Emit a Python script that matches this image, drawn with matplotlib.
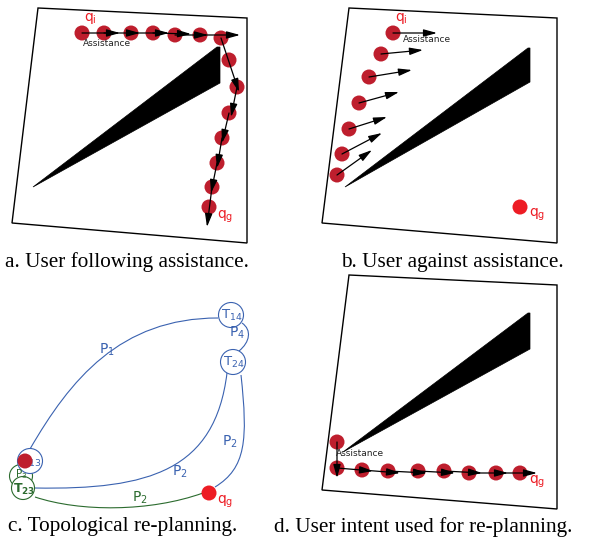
import numpy as np
import matplotlib.pyplot as plt
from matplotlib.patches import Polygon, Circle, FancyArrowPatch
from matplotlib.path import Path
from matplotlib.patches import PathPatch

# pixel coordinates of the sketch (y goes down)
frame_a = [(38, 8), (247, 18), (247, 243), (12, 223)]
frame_b = [(349, 8), (557, 18), (557, 243), (322, 223)]
frame_d = [(349, 275), (557, 285), (557, 509), (322, 490)]

obst_a = [(33, 187), (217, 47), (220, 47), (220, 83)]
obst_b = [(345, 187), (528, 48), (530, 48), (530, 82)]
obst_d = [(343, 452), (528, 313), (530, 313), (530, 349)]

dots_a = [(82, 33), (104, 33), (131, 33), (153, 33), (175, 35), (200, 35), (221, 38),
          (229, 60), (237, 87), (229, 113), (222, 138), (217, 163), (212, 187), (209, 207)]
arrows_a = [((82, 33), (120, 33)), ((104, 33), (140, 33)), ((131, 33), (169, 33)),
            ((153, 33), (191, 34)), ((175, 35), (208, 35)), ((200, 35), (240, 35)),
            ((221, 38), (239, 92)), ((237, 87), (231, 117)), ((229, 113), (222, 143)),
            ((222, 138), (217, 168)), ((217, 163), (211, 193)), ((212, 187), (207, 227))]

dots_b = [(393, 33), (381, 54), (369, 77), (359, 103), (349, 129), (342, 154), (337, 175)]
arrows_b = [((393, 33), (437, 33)), ((381, 54), (423, 50)), ((369, 77), (412, 70)),
            ((359, 103), (399, 92)), ((349, 129), (387, 117)), ((342, 154), (382, 133)),
            ((337, 175), (372, 150))]
goal_b = (520, 207)

dots_d = [(337, 442), (337, 468), (362, 470), (388, 471), (418, 471), (444, 471),
          (469, 473), (496, 473), (520, 473)]
arrows_d = [((337, 442), (337, 478)), ((337, 468), (373, 471)), ((362, 470), (400, 473)),
            ((388, 471), (427, 473)), ((418, 471), (455, 473)), ((444, 471), (482, 473)),
            ((469, 473), (508, 473)), ((496, 473), (537, 473))]

# panel c: topology graph
nodes_c = {'T$_{14}$': (231, 315), 'T$_{24}$': (233, 362), 'T$_{13}$': (30, 461)}
green_nodes = [(21, 476), (23, 488)]
edges_blue = [  # cubic bezier control points
    [(30, 449), (70, 380), (120, 318), (218, 318)],
    [(242, 323), (252, 330), (250, 342), (239, 351)],
    [(227, 373), (215, 470), (150, 490), (35, 488)],
    [(241, 375), (248, 440), (246, 468), (215, 487)],
]
edges_green = [[(35, 497), (80, 512), (150, 512), (203, 493)]]
labels_blue = [('P$_1$', (107, 350)), ('P$_4$', (237, 333)), ('P$_2$', (180, 472)),
               ('P$_2$', (230, 442))]
labels_green = [('P$_2$', (140, 498))]

captions = [('a. User following assistance.', (127, 262)),
            ('b. User against assistance.', (452, 262)),
            ('c. Topological re-planning.', (123, 527)),
            ('d. User intent used for re-planning.', (423, 527))]

dot_red = '#be1e2d'
goal_red = '#ed1c24'
blue = '#3a62b0'
green = '#2b6b2e'

fig = plt.figure(figsize=(5.96, 5.40), dpi=100)
ax = fig.add_axes([0, 0, 1, 1])
ax.set_xlim(0, 596)
ax.set_ylim(540, 0)
ax.axis('off')


def arrow(p, q, color='black'):
    ax.add_patch(FancyArrowPatch(p, q, arrowstyle='-|>,head_length=0.8,head_width=0.22',
                                 mutation_scale=10, color=color, lw=0.9, zorder=4,
                                 shrinkA=0, shrinkB=0))


for fr, ob in [(frame_a, obst_a), (frame_b, obst_b), (frame_d, obst_d)]:
    ax.add_patch(Polygon(fr, closed=True, fill=False, ec='black', lw=1.0))
    ax.add_patch(Polygon(ob, closed=True, fc='black', ec='black', lw=0.5))

for dots, arrs in [(dots_a, arrows_a), (dots_b, arrows_b), (dots_d, arrows_d)]:
    for d in dots:
        ax.add_patch(Circle(d, 7.5, fc=dot_red, ec='none', zorder=3))
    for p, q in arrs:
        arrow(p, q)

ax.add_patch(Circle(goal_b, 7.5, fc=goal_red, ec='none', zorder=3))

tkw = dict(fontsize=10, color=goal_red, family='DejaVu Sans')
ax.text(90, 19, 'q$_\\mathregular{i}$', ha='center', va='center', **tkw)
ax.text(225, 217, 'q$_\\mathregular{g}$', ha='center', va='center', **tkw)
ax.text(401, 18, 'q$_\\mathregular{i}$', ha='center', va='center', **tkw)
ax.text(537, 215, 'q$_\\mathregular{g}$', ha='center', va='center', **tkw)
ax.text(537, 482, 'q$_\\mathregular{g}$', ha='center', va='center', **tkw)
akw = dict(fontsize=6.5, color='#222222', ha='center', va='center', zorder=5)
ax.text(107, 43, 'Assistance', **akw)
ax.text(427, 39, 'Assistance', **akw)
ax.text(360, 454, 'Assistance', **akw)

# panel c
for ctrl in edges_blue:
    ax.add_patch(PathPatch(Path(ctrl, [Path.MOVETO, Path.CURVE4, Path.CURVE4, Path.CURVE4]),
                           fc='none', ec=blue, lw=0.8))
for ctrl in edges_green:
    ax.add_patch(PathPatch(Path(ctrl, [Path.MOVETO, Path.CURVE4, Path.CURVE4, Path.CURVE4]),
                           fc='none', ec=green, lw=0.8))
for g in green_nodes:
    ax.add_patch(Circle(g, 11.5, fc='white', ec=green, lw=0.8, zorder=2))
for name, c in nodes_c.items():
    ax.add_patch(Circle(c, 12.5, fc='white', ec=blue, lw=0.8, zorder=2))
    ax.text(c[0] + 1, c[1], name, ha='center', va='center', fontsize=9.5, color=blue, zorder=3)
ax.add_patch(Circle((25, 461), 7.5, fc=dot_red, ec='none', zorder=4))
ax.text(21, 474, 'P$_3$', ha='center', va='center', fontsize=7.5, color=green, zorder=3)
ax.text(24, 489, 'T$_\\mathbf{23}$', ha='center', va='center', fontsize=9, color=green,
        fontweight='bold', zorder=3)
ax.add_patch(Circle((209, 493), 7.5, fc=goal_red, ec='none', zorder=4))
ax.text(225, 502, 'q$_\\mathregular{g}$', ha='center', va='center', **tkw)
for t, (x, y) in labels_blue:
    ax.text(x, y, t, ha='center', va='center', fontsize=10, color=blue, zorder=3)
for t, (x, y) in labels_green:
    ax.text(x, y, t, ha='center', va='center', fontsize=10, color=green, zorder=3)

for t, (x, y) in captions:
    ax.text(x, y, t, ha='center', va='center', fontsize=15.3, family='Liberation Serif')

fig.savefig('out.png', dpi=100)
